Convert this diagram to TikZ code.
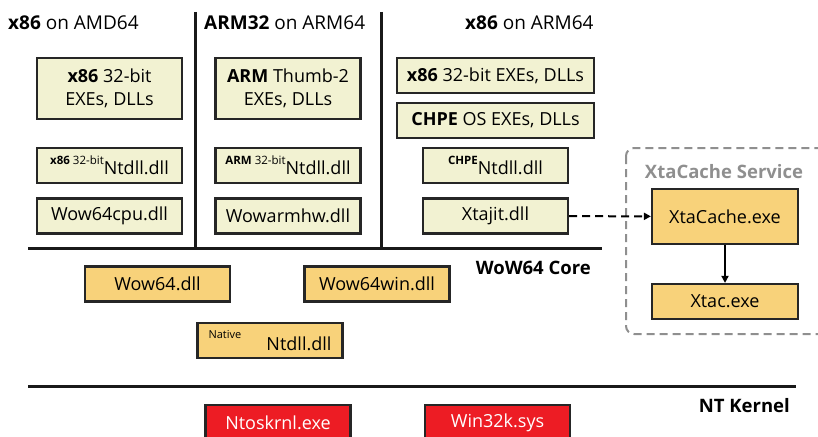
\documentclass[tikz,border=0pt]{standalone}
\usepackage{fontspec}
\setmainfont{Open Sans}
\usetikzlibrary{arrows.meta}
\definecolor{cream}{HTML}{F2F2D2}
\definecolor{amber}{HTML}{F8D27A}
\definecolor{kred}{HTML}{ED1C24}
\definecolor{svcgray}{HTML}{8F8F8F}
\newcommand{\smalltag}[1]{\raisebox{1.0ex}{\fontsize{11.5}{12}\selectfont #1}}
\tikzset{
  box/.style={draw=black!85, line width=2.2pt, inner sep=0pt, minimum width=145pt, minimum height=35pt, font=\fontsize{18}{23}\selectfont},
  dll/.style={box, fill=cream},
  core/.style={box, fill=amber},
  kern/.style={box, fill=kred, text=white},
  title/.style={font=\fontsize{19}{22}\selectfont, inner sep=0pt},
  head/.style={font=\fontsize{18.5}{22}\selectfont\bfseries, inner sep=0pt},
  layer/.style={line width=3pt, black!90}
}

\begin{document}
\begin{tikzpicture}[x=1pt,y=-1pt]
\useasboundingbox (0,0) rectangle (818,436);
\clip (0,0) rectangle (818,436);

% Column headings
\node[title, anchor=west] (tAMD) at (8,23)   {\textbf{x86} on AMD64};
\node[title, anchor=west] (tARM) at (204,23) {\textbf{ARM32} on ARM64};
\node[title, anchor=west] (tX86) at (465,23) {\textbf{x86} on ARM64};

% Separators
\draw[layer] (195,12) -- (195,248);
\draw[layer] (381,12) -- (381,248);
\draw[layer] (28,248) -- (602,248);
\draw[layer] (28,386) -- (796,386);

% x86 on AMD64
\node[dll, minimum height=61pt, align=center] (exeA) at (109.5,88.5) {\textbf{x86} 32-bit\\EXEs, DLLs};
\node[dll] (ntA)  at (109.5,165.5) {\smalltag{\textbf{x86} 32-bit}Ntdll.dll};
\node[dll] (cpuA) at (109.5,216)   {Wow64cpu.dll};

% ARM32 on ARM64
\node[dll, minimum height=61pt, align=center] (exeB) at (288,88.5) {\textbf{ARM} Thumb-2\\EXEs, DLLs};
\node[dll] (ntB) at (288,165.5) {\smalltag{\textbf{ARM} 32-bit}Ntdll.dll};
\node[dll] (hwB) at (288,216)   {Wowarmhw.dll};

% x86 on ARM64
\node[dll, minimum width=197pt] (exeC) at (495.5,75.5)  {\textbf{x86} 32-bit EXEs, DLLs};
\node[dll, minimum width=197pt] (chpe) at (495.5,120.5) {\textbf{CHPE} OS EXEs, DLLs};
\node[dll] (ntC) at (495.5,165.5) {\smalltag{\textbf{CHPE}}Ntdll.dll};
\node[dll] (jit) at (495.5,216)   {Xtajit.dll};

% XtaCache service
\draw[svcgray, line width=2pt, dash pattern=on 8pt off 5pt, rounded corners=8pt] (626,148) rectangle (840,334);
\node[head, text=svcgray] (svc) at (724,172) {XtaCache Service};
\node[core, minimum width=146pt, minimum height=55pt] (cache) at (725,216.5) {XtaCache.exe};
\node[core, minimum width=146pt] (xtac) at (725,301.5) {Xtac.exe};
\draw[line width=2pt, dash pattern=on 8pt off 5pt, -{Triangle[length=7pt,width=7pt]}] (jit) -- (cache);
\draw[line width=2pt, -{Triangle[length=7pt,width=7pt]}] (cache) -- (xtac);

% WoW64 core
\node[head, anchor=east] (tcore) at (591,268) {WoW64 Core};
\node[core] (wow)    at (157.5,284) {Wow64.dll};
\node[core] (win)    at (377,284)   {Wow64win.dll};
\node[core] (native) at (270,340.5) {\raisebox{1.2ex}{\fontsize{11}{12}\selectfont Native}\hspace{1.4em}Ntdll.dll};

% NT kernel
\node[head, anchor=east] (tkern) at (790,406) {NT Kernel};
\node[kern] (ntos) at (278,422.5)   {Ntoskrnl.exe};
\node[kern] (w32k) at (497.5,422.5) {Win32k.sys};

\end{tikzpicture}
\end{document}
